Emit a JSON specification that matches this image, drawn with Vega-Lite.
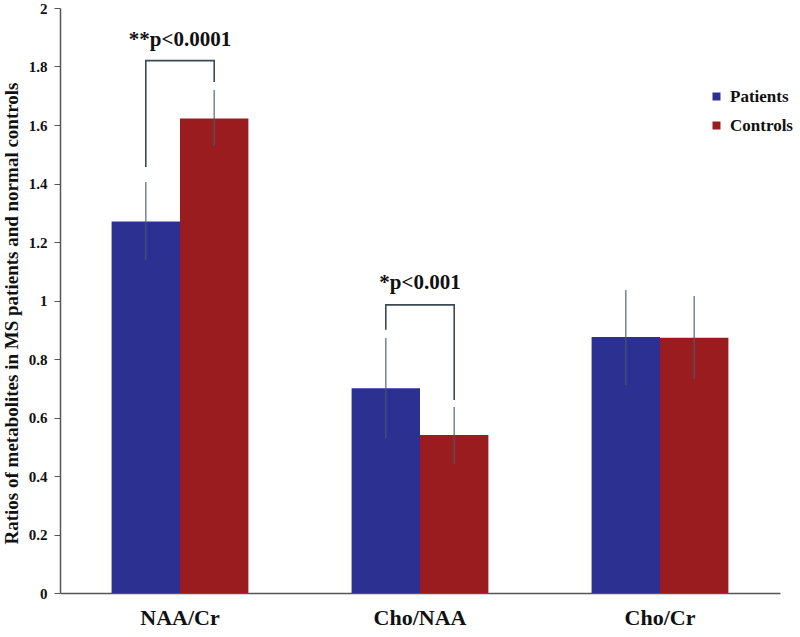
{
  "$schema": "https://vega.github.io/schema/vega-lite/v6.json",
  "autosize": {"type": "none"},
  "width": 720,
  "height": 585,
  "padding": {"left": 60, "top": 8, "right": 20, "bottom": 44},
  "background": "white",
  "config": {
    "view": {"stroke": null},
    "font": "Liberation Serif",
    "axis": {"labelFont": "Liberation Serif", "titleFont": "Liberation Serif", "labelFontWeight": "bold", "titleFontWeight": "bold", "labelColor": "#111", "titleColor": "#111", "domainColor": "#555", "tickColor": "#555"}
  },
  "datasets": {
    "bars": [
      {"metric": "NAA/Cr", "group": "Patients", "value": 1.27, "lo": 1.138, "hi": 1.405},
      {"metric": "NAA/Cr", "group": "Controls", "value": 1.622, "lo": 1.528, "hi": 1.72},
      {"metric": "Cho/NAA", "group": "Patients", "value": 0.70, "lo": 0.53, "hi": 0.872},
      {"metric": "Cho/NAA", "group": "Controls", "value": 0.54, "lo": 0.44, "hi": 0.636},
      {"metric": "Cho/Cr", "group": "Patients", "value": 0.875, "lo": 0.711, "hi": 1.036},
      {"metric": "Cho/Cr", "group": "Controls", "value": 0.873, "lo": 0.732, "hi": 1.015}
    ],
    "brackets": [
      {"bracket": "a", "step": 1, "metric": "NAA/Cr", "group": "Patients", "y": 1.456},
      {"bracket": "a", "step": 2, "metric": "NAA/Cr", "group": "Patients", "y": 1.82},
      {"bracket": "a", "step": 3, "metric": "NAA/Cr", "group": "Controls", "y": 1.82},
      {"bracket": "a", "step": 4, "metric": "NAA/Cr", "group": "Controls", "y": 1.747},
      {"bracket": "b", "step": 1, "metric": "Cho/NAA", "group": "Patients", "y": 0.90},
      {"bracket": "b", "step": 2, "metric": "Cho/NAA", "group": "Patients", "y": 0.985},
      {"bracket": "b", "step": 3, "metric": "Cho/NAA", "group": "Controls", "y": 0.985},
      {"bracket": "b", "step": 4, "metric": "Cho/NAA", "group": "Controls", "y": 0.66}
    ],
    "labels": [
      {"metric": "NAA/Cr", "label": "**p<0.0001", "y": 1.89},
      {"metric": "Cho/NAA", "label": "*p<0.001", "y": 1.06}
    ]
  },
  "encoding": {
    "x": {
      "field": "metric", "type": "nominal", "sort": ["NAA/Cr", "Cho/NAA", "Cho/Cr"],
      "scale": {"paddingInner": 0.43, "paddingOuter": 0.215},
      "axis": {"title": null, "labelAngle": 0, "labelFontSize": 22, "ticks": false, "labelPadding": 14, "domainWidth": 1.5}
    }
  },
  "layer": [
    {
      "data": {"name": "bars"},
      "mark": {"type": "bar"},
      "encoding": {
        "xOffset": {"field": "group", "type": "nominal", "sort": ["Patients", "Controls"], "scale": {"paddingInner": 0, "paddingOuter": 0}},
        "y": {
          "field": "value", "type": "quantitative",
          "scale": {"domain": [0, 2], "nice": false},
          "axis": {"title": "Ratios of metabolites in MS patients and normal controls", "titleFontSize": 19, "titleX": -49, "titleY": 305, "titleAngle": -90, "titleBaseline": "middle", "titleAnchor": "middle", "values": [0, 0.2, 0.4, 0.6, 0.8, 1, 1.2, 1.4, 1.6, 1.8, 2], "format": "~g", "labelFontSize": 15, "labelPadding": 7, "tickSize": 6, "grid": false, "domainWidth": 1.5}
        },
        "color": {
          "field": "group", "type": "nominal", "sort": ["Patients", "Controls"],
          "scale": {"domain": ["Patients", "Controls"], "range": ["#2c3090", "#9a1c1f"]},
          "legend": {"title": null, "orient": "none", "legendX": 648, "legendY": 80, "symbolType": "square", "symbolSize": 64, "symbolStrokeWidth": 0, "labelFontSize": 17, "labelFontWeight": "bold", "labelFont": "Liberation Serif", "labelColor": "#111", "labelOffset": 5, "rowPadding": 11, "padding": 0, "symbolOpacity": 1}
        }
      }
    },
    {
      "data": {"name": "bars"},
      "mark": {"type": "rule", "color": "#4b5c68", "opacity": 0.75, "strokeWidth": 1.5},
      "encoding": {
        "xOffset": {"field": "group", "type": "nominal", "sort": ["Patients", "Controls"]},
        "y": {"field": "lo", "type": "quantitative"},
        "y2": {"field": "hi"}
      }
    },
    {
      "data": {"name": "brackets"},
      "mark": {"type": "line", "color": "#3b4a52", "strokeWidth": 1.6},
      "encoding": {
        "xOffset": {"field": "group", "type": "nominal", "sort": ["Patients", "Controls"]},
        "y": {"field": "y", "type": "quantitative"},
        "detail": {"field": "bracket"},
        "order": {"field": "step", "type": "quantitative"}
      }
    },
    {
      "data": {"name": "labels"},
      "mark": {"type": "text", "fontSize": 21, "fontWeight": "bold", "font": "Liberation Serif", "color": "#111", "baseline": "middle"},
      "encoding": {
        "y": {"field": "y", "type": "quantitative"},
        "text": {"field": "label"}
      }
    }
  ]
}
